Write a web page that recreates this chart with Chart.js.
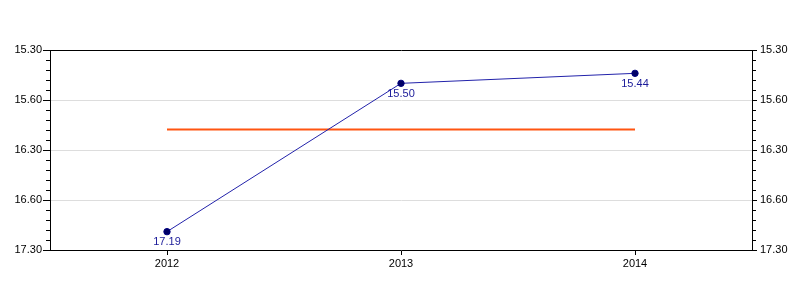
<!DOCTYPE html>
<html>
<head>
<meta charset="utf-8">
<script src="https://cdn.jsdelivr.net/npm/chart.js@4/dist/chart.umd.min.js"></script>
<style>
html,body{margin:0;padding:0;background:#fff;}
#wrap{width:800px;height:300px;position:relative;}
</style>
</head>
<body>
<div id="wrap"><canvas id="c" width="800" height="300"></canvas></div>
<script>
// Categories and values (times written as minutes.seconds)
const years = ['2012', '2013', '2014'];
const times = [17.19, 15.50, 15.44];
const averageLine = [16.177, 16.177, 16.177];
const axisMin = 15.30;   // 15:30
const axisMax = 17.30;   // 17:30
const majorStepSec = 30;
const minorStepSec = 6;

function toSec(t) {
  const m = Math.floor(t);
  return m * 60 + Math.round((t - m) * 100 * 1000) / 1000;
}
function tickLabel(s) {
  const m = Math.floor((s - 1) / 60);
  const r = s - m * 60;
  return m + '.' + String(Math.round(r)).padStart(2, '0');
}
const yMin = toSec(axisMin), yMax = toSec(axisMax);
const FONT = {family: "'Liberation Sans', Arial, sans-serif", size: 11};

const minorTicks = {
  id: 'minorTicks',
  afterDraw(chart) {
    const ctx = chart.ctx;
    const yl = chart.scales.y, yr = chart.scales.y2;
    ctx.save();
    ctx.strokeStyle = '#000';
    ctx.lineWidth = 1;
    ctx.beginPath();
    for (let v = yMin; v <= yMax; v += minorStepSec) {
      if ((v - yMin) % majorStepSec === 0) continue;
      const py = Math.round(yl.getPixelForValue(v)) + 0.5;
      ctx.moveTo(yl.right - 4, py); ctx.lineTo(yl.right, py);
      ctx.moveTo(yr.left, py); ctx.lineTo(yr.left + 4, py);
    }
    ctx.stroke();
    ctx.restore();
  }
};

const pointLabels = {
  id: 'pointLabels',
  afterDatasetsDraw(chart) {
    const ctx = chart.ctx;
    const meta = chart.getDatasetMeta(0);
    ctx.save();
    ctx.font = '11px ' + FONT.family;
    ctx.fillStyle = '#1a1a99';
    ctx.textAlign = 'center';
    ctx.textBaseline = 'top';
    meta.data.forEach((pt, i) => {
      ctx.fillText(times[i].toFixed(2), pt.x, pt.y + 5);
    });
    ctx.restore();
  }
};

new Chart(document.getElementById('c'), {
  type: 'line',
  data: {
    labels: years,
    datasets: [
      {
        data: times.map(toSec),
        borderColor: '#2222aa',
        borderWidth: 1,
        backgroundColor: '#000066',
        pointBackgroundColor: '#000066',
        pointBorderColor: '#000080',
        pointRadius: 3.2,
        pointBorderWidth: 1,
        tension: 0,
        yAxisID: 'y'
      },
      {
        data: averageLine.map(toSec),
        borderColor: '#ff5511',
        borderWidth: 2,
        pointRadius: 0,
        tension: 0,
        yAxisID: 'y'
      }
    ]
  },
  options: {
    responsive: false,
    animation: false,
    layout: {padding: {top: 50, left: 0, right: 0, bottom: 0}},
    plugins: {legend: {display: false}, tooltip: {enabled: false}},
    scales: {
      x: {
        offset: true,
        grid: {display: true, drawOnChartArea: false, drawTicks: true, tickLength: 5, color: '#000', offset: false},
        border: {display: true, color: '#000', width: 1},
        ticks: {color: '#000', font: FONT, padding: 2, maxRotation: 0},
        afterFit(s) { s.height = 50; }
      },
      y: {
        position: 'left',
        reverse: true,
        min: yMin, max: yMax,
        grid: {
          color: c => (c.tick && c.tick.value === yMin) ? '#000' : '#dddddd',
          tickColor: '#000',
          tickLength: 7,
          drawTicks: true
        },
        border: {display: true, color: '#000', width: 1},
        ticks: {stepSize: majorStepSec, color: '#000', font: FONT, padding: 1, callback: v => tickLabel(v)},
        afterFit(s) { s.width = 50; }
      },
      y2: {
        position: 'right',
        reverse: true,
        min: yMin, max: yMax,
        grid: {drawOnChartArea: false, tickColor: '#000', tickLength: 5, drawTicks: true},
        border: {display: true, color: '#000', width: 1},
        ticks: {stepSize: majorStepSec, color: '#000', font: FONT, padding: 3, callback: v => tickLabel(v)},
        afterFit(s) { s.width = 48; }
      }
    }
  },
  plugins: [minorTicks, pointLabels]
});
</script>
</body>
</html>
